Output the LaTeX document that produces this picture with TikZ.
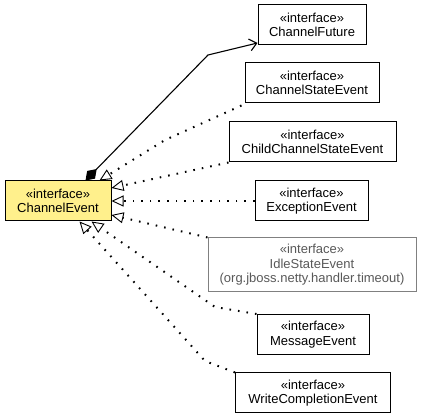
\documentclass[tikz,border=0pt]{standalone}
\usepackage{fontspec}
\setmainfont{Liberation Sans}
\usetikzlibrary{arrows.meta,calc}
\definecolor{ifill}{HTML}{FFF08C}
\tikzset{
  cls/.style={draw, line width=1pt, fill=white, align=center, inner sep=0pt,
    minimum height=40pt, font=\fontsize{13}{14.5}\selectfont},
  grey/.style={draw=gray, text=black!65},
  realize/.style={line width=2pt, dash pattern=on 1.6pt off 7pt,
    -{Triangle[open,fill=white,length=12pt,width=11pt,line width=0.9pt]}},
  assoc/.style={line width=1.1pt,
    {Diamond[length=16pt,width=11pt]}-{Straight Barb[length=7pt,width=12pt,line width=1.1pt]}}
}
\begin{document}
\begin{tikzpicture}[x=1pt,y=-1pt]
\useasboundingbox (0,0) rectangle (424,417);
\node[cls, fill=ifill, minimum width=106pt] (ce) at (58,201) {«interface»\\ChannelEvent};
\node[cls, minimum width=108pt] (cf) at (312,25) {«interface»\\ChannelFuture};
\node[cls, minimum width=134pt] (cse) at (312,83) {«interface»\\ChannelStateEvent};
\node[cls, minimum width=167pt] (ccse) at (312.5,142) {«interface»\\ChildChannelStateEvent};
\node[cls, minimum width=113pt] (ee) at (311.5,201) {«interface»\\ExceptionEvent};
\node[cls, grey, minimum width=208pt, minimum height=54pt] (ise) at (312,265) {«interface»\\IdleStateEvent\\(org.jboss.netty.handler.timeout)};
\node[cls, minimum width=112pt] (me) at (313,334.5) {«interface»\\MessageEvent};
\node[cls, minimum width=155pt] (wce) at (313,393) {«interface»\\WriteCompletionEvent};

\coordinate (aggS) at ($(ce.north west)+(81,0)$);
\coordinate (aggB) at (208,55);
\coordinate (cfE) at ($(cf.west)+(0,18)$);
\coordinate (cseT) at ($(ce.north west)+(95,0)$);
\coordinate (cseB) at (165,140);
\coordinate (ccseT) at ($(ce.east)+(0,-13)$);
\coordinate (iseT) at ($(ce.east)+(0,14)$);
\coordinate (meT) at ($(ce.south west)+(87,0)$);
\coordinate (meB) at (215,307);
\coordinate (wceT) at ($(ce.south west)+(75,0)$);
\coordinate (wceB) at (205,361);

\draw[assoc] (aggS) -- (aggB) -- (cfE);
\draw[realize] ($(cse.south west)+(-3,2)$) -- (cseB) -- (cseT);
\draw[realize] (ccse.south west) -- (ccseT);
\draw[realize] (ee.west) -- (ce.east);
\draw[realize] (ise.north west) -- (iseT);
\draw[realize] (me.north west) -- (meB) -- (meT);
\draw[realize] (wce.north west) -- (wceB) -- (wceT);
\end{tikzpicture}
\end{document}
